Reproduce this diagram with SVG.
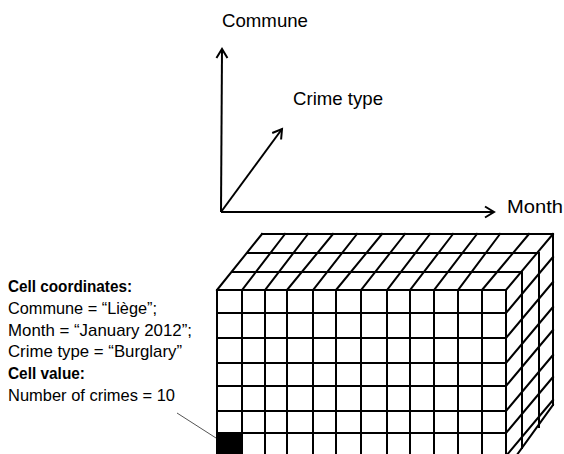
<svg xmlns="http://www.w3.org/2000/svg" width="564" height="454" viewBox="0 0 564 454">
<style>
.ax{stroke:#000;stroke-width:2;fill:none}
.g{stroke:#000;stroke-width:2;fill:none;stroke-linecap:square}
.lbl{font-family:"Liberation Sans",Arial,sans-serif;font-size:18.5px;fill:#000}
.t{font-family:"Liberation Sans",Arial,sans-serif;font-size:17px;fill:#000}
.b{font-weight:bold}
</style>
<defs>
<marker id="arr" markerUnits="userSpaceOnUse" markerWidth="14" markerHeight="14" refX="10" refY="6" orient="auto" viewBox="0 0 14 12">
<path d="M1,0.5 L10,6 L1,11.5" fill="none" stroke="#000" stroke-width="2"/>
</marker>
</defs>
<rect width="564" height="454" fill="#fff"/>
<g id="axes">
<line class="ax" x1="221" y1="212" x2="222" y2="49" marker-end="url(#arr)"/>
<line class="ax" x1="221" y1="212" x2="494" y2="212" marker-end="url(#arr)"/>
<line class="ax" x1="221" y1="212" x2="282" y2="129" marker-end="url(#arr)"/>
</g>
<g id="axis-labels">
<text class="lbl" x="222" y="27" textLength="86" lengthAdjust="spacingAndGlyphs">Commune</text>
<text class="lbl" x="293" y="105" textLength="90" lengthAdjust="spacingAndGlyphs">Crime type</text>
<text class="lbl" x="507" y="213" textLength="56" lengthAdjust="spacingAndGlyphs">Month</text>
</g>
<g id="cube">
<rect x="217" y="432" width="26" height="30" fill="#000"/>
<g id="front-face" class="g">
<path d="M217,290V460 M242,290V460 M265,290V460 M287,290V460 M313,290V460 M336,290V460 M361,290V460 M387,290V460 M410,290V460 M434,290V460 M458,290V460 M482,290V460 M506,290V470"/>
<path d="M217,290H506 M217,313H506 M217,338H506 M217,363H506 M217,386H506 M217,411H506 M217,433H506"/>
</g>
<g id="top-face" class="g">
<path d="M217,290L262,234 M242,290L285,234 M265,290L308,234 M287,290L333,234 M313,290L357,234 M336,290L382,234 M361,290L405,234 M387,290L430,234 M410,290L453,234 M434,290L477,234 M458,290L500,234 M482,290L529,234 M506,290L553,234"/>
<path d="M262,234H553 M248,253H539 M233,272H522"/>
</g>
<g id="side-face" class="g">
<path d="M522,272V448 M539,253V427 M553,234V405"/>
<path d="M506,313L553,257 M506,338L553,282 M506,363L553,307 M506,386L553,330 M506,411L553,355 M506,433L553,377 M506,456L553,400 M506,470L553,405"/>
</g>
</g>
<g id="connectors">
<line x1="177" y1="413" x2="216" y2="438" stroke="#555" stroke-width="1"/>
</g>
<g id="cell-note">
<text class="t b" x="8" y="292" textLength="124" lengthAdjust="spacingAndGlyphs">Cell coordinates:</text>
<text class="t" x="8" y="314" textLength="149" lengthAdjust="spacingAndGlyphs">Commune = “Liège”;</text>
<text class="t" x="8" y="336" textLength="184" lengthAdjust="spacingAndGlyphs">Month = “January 2012”;</text>
<text class="t" x="8" y="357" textLength="174" lengthAdjust="spacingAndGlyphs">Crime type = “Burglary”</text>
<text class="t b" x="8" y="379" textLength="77" lengthAdjust="spacingAndGlyphs">Cell value:</text>
<text class="t" x="8" y="401" textLength="167" lengthAdjust="spacingAndGlyphs">Number of crimes = 10</text>
</g>
</svg>
